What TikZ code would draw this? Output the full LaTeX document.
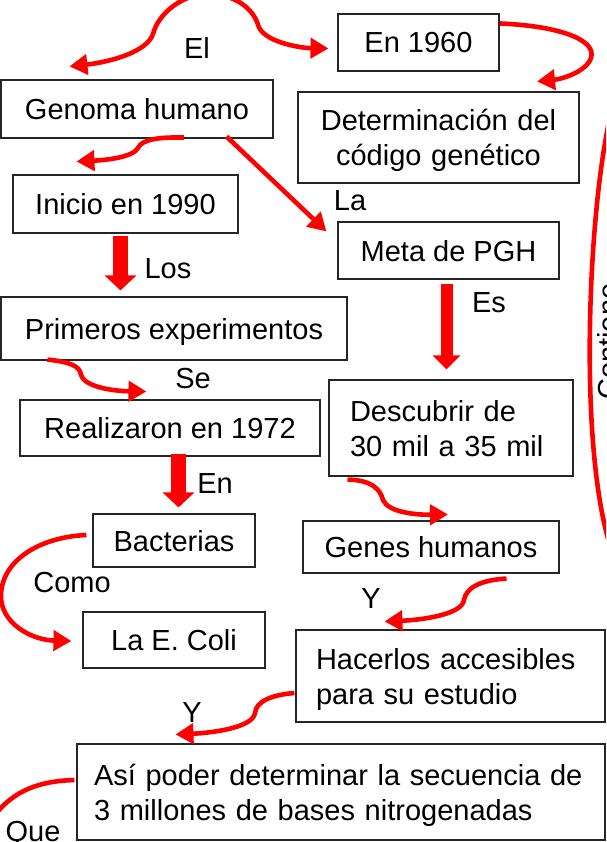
\documentclass[tikz,border=0pt]{standalone}
\usepackage{fontspec}
\setmainfont{Liberation Sans}
\usetikzlibrary{arrows.meta,calc}
\begin{document}
\begin{tikzpicture}[x=1pt,y=-1pt,
  >={Triangle[length=18pt,width=20pt]},
  box/.style={draw=black!85, line width=1.1pt, inner sep=0pt, text height=21pt, text depth=0pt, font=\fontsize{29}{35}\selectfont},
  boxtwo/.style={box, text depth=35pt},
  lbl/.style={inner sep=0pt, text height=21pt, text depth=0pt, font=\fontsize{29}{35}\selectfont},
  conn/.style={draw=red, line width=4.6pt, ->},
  block/.style={draw=red, line width=15pt, -{Triangle[length=15pt,width=31pt]}},
  blocksm/.style={draw=red, line width=12pt, -{Triangle[length=14pt,width=27pt]}},
]
\useasboundingbox (0,0) rectangle (606,842);
\clip (0,0) rectangle (606,842);

% boxes
\node[box, minimum width=161pt, minimum height=57pt] (en1960) at (418.5,42.5) {En 1960};
\node[box, minimum width=272pt, minimum height=58pt] (genoma) at (137,109) {Genoma humano};
\node[boxtwo, minimum width=281pt, minimum height=91pt, text width=262pt, align=center] (det) at (438.5,137.5) {Determinación del\\código genético};
\node[box, minimum width=225pt, minimum height=58pt] (inicio) at (125.5,204) {Inicio en 1990};
\node[box, minimum width=221pt, minimum height=57pt] (meta) at (448.5,250.5) {Meta de PGH};
\node[box, minimum width=346pt, minimum height=63pt] (primeros) at (174,328.5) {Primeros experimentos};
\node[box, minimum width=300pt, minimum height=56pt] (realizaron) at (170,428) {Realizaron en 1972};
\node[boxtwo, minimum width=244pt, minimum height=96pt, text width=202pt, align=left] (descubrir) at (451,428) {Descubrir de\\30 mil a 35 mil};
\node[box, minimum width=162pt, minimum height=53pt] (bacterias) at (174,540.5) {Bacterias};
\node[box, minimum width=256pt, minimum height=52pt] (genes) at (431,547) {Genes humanos};
\node[box, minimum width=182pt, minimum height=56pt] (ecoli) at (174,640) {La E. Coli};
\node[boxtwo, minimum width=309pt, minimum height=92pt, text width=269pt, align=left] (hacerlos) at (450.5,676) {Hacerlos accesibles\\para su estudio};
\node[boxtwo, minimum width=528pt, minimum height=96pt, text width=494pt, align=left] (asi) at (341,792) {Así poder determinar la secuencia de\\3 millones de bases nitrogenadas};

% labels
\node[lbl] (lEl) at (197,48) {El};
\node[lbl] (lLa) at (350,200) {La};
\node[lbl] (lLos) at (168,268) {Los};
\node[lbl] (lEs) at (489,302) {Es};
\node[lbl] (lSe) at (193,378) {Se};
\node[lbl] (lEn) at (215,483) {En};
\node[lbl] (lComo) at (72,582) {Como};
\node[lbl] (lY1) at (371,598) {Y};
\node[lbl] (lY2) at (192,712) {Y};
\node[lbl] (lQue) at (33,831) {Que};
\node[lbl, rotate=90, anchor=base west, text height=, text depth=] (lCont) at (618,400) {Contiene};

% free coordinates
\coordinate (topPeak) at (208,-6);
\coordinate (offLeft) at (-6,816);
\coordinate (arcTop) at (609,122);
\coordinate (arcBot) at (609,542);

% top bump (double headed)
\draw[conn, <->] ($(genoma.north west)+(69,-13)$) .. controls (110,62) and (147,52) .. (153,34)
  .. controls (158,14) and (182,-6) .. (topPeak)
  .. controls (236,-6) and (254,10) .. (258,25)
  .. controls (263,42) and (300,48) .. ($(en1960.west)+(-9,6)$);

% En 1960 -> Determinacion
\draw[conn] ($(en1960.north east)+(0,10)$) .. controls (560,26) and (597,40) .. (591,58)
  .. controls (586,72) and (562,79) .. ($(det.north)+(98.5,-10)$);

% Genoma -> Inicio
\draw[conn] ($(genoma.south)+(47,-1)$) .. controls (160,137) and (142,139) .. (138,148)
  .. controls (133,157) and (108,160) .. ($(inicio.north west)+(64,-13)$);

% Genoma -> Meta
\draw[conn] ($(genoma.south east)+(-47,-2)$) -- ($(meta.north west)+(-11,10)$);

% block arrows
\draw[block] ($(inicio.south)+(-5,2)$) -- ($(primeros.north)+(-53.5,-6)$);
\draw[blocksm] ($(meta.south)+(-2,4)$) -- ($(descubrir.north)+(-4.5,-10)$);
\draw[block] ($(realizaron.south)+(8.5,-3)$) -- ($(bacterias.north)+(4.5,-6)$);

% Primeros -> Realizaron
\draw[conn] ($(primeros.south west)+(47,-1)$) .. controls (70,362) and (80,366) .. (81,375)
  .. controls (84,386) and (110,391) .. ($(realizaron.north west)+(127,-8)$);

% Descubrir -> Genes
\draw[conn] ($(descubrir.south west)+(19,3)$) .. controls (370,480) and (380,488) .. (383,500)
  .. controls (388,512) and (415,515) .. ($(genes.north)+(17,-6)$);

% Bacterias -> E. Coli
\draw[conn] ($(bacterias.west)+(-6,-5.5)$) .. controls (40,537) and (2,560) .. (1,595)
  .. controls (0,622) and (30,640) .. ($(ecoli.west)+(-11,1)$);

% Genes -> Hacerlos
\draw[conn] ($(genes.south east)+(-53,5)$) .. controls (480,580) and (466,588) .. (464,600)
  .. controls (462,615) and (420,620) .. ($(hacerlos.north west)+(89,-8)$);

% Hacerlos -> Asi
\draw[conn] ($(hacerlos.west)+(-1,17)$) .. controls (270,695) and (256,702) .. (255,713)
  .. controls (253,728) and (210,733) .. ($(asi.north west)+(99,-9)$);

% Asi -> (off page)
\draw[draw=red, line width=4.6pt] ($(asi.west)+(-2,-12)$) .. controls (40,781) and (14,790) .. (offLeft);

% right arc
\draw[draw=red, line width=4.6pt] (arcTop) .. controls (588,220) and (579,440) .. (arcBot);
\end{tikzpicture}
\end{document}
